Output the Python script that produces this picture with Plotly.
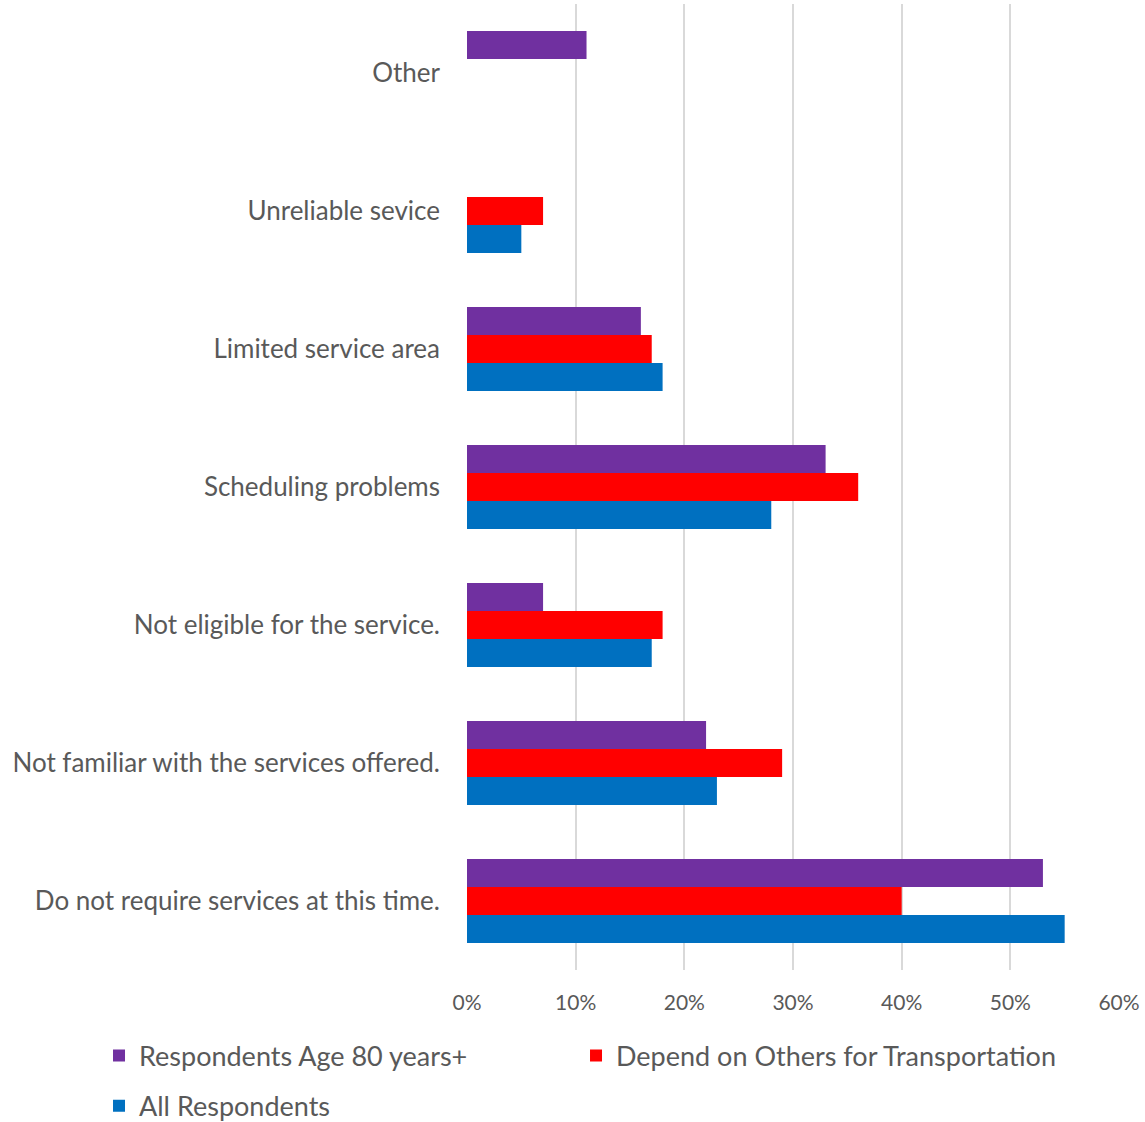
import plotly.graph_objects as go

categories = [
    "Do not require services at this time.",
    "Not familiar with the services offered.",
    "Not eligible for the service.",
    "Scheduling problems",
    "Limited service area",
    "Unreliable sevice",
    "Other",
]
all_respondents = [55, 23, 17, 28, 18, 5, 0]
depend_on_others = [40, 29, 18, 36, 17, 7, 0]
age_80_plus = [53, 22, 7, 33, 16, 0, 11]
x_tickvals = [0, 10, 20, 30, 40, 50, 60]
x_ticktext = ["0%", "10%", "20%", "30%", "40%", "50%", "60%"]

FONT = "Lato"
GREY = "#595959"

fig = go.Figure()
fig.add_trace(go.Bar(y=categories, x=all_respondents, orientation="h",
                     name="All Respondents", marker_color="#0070C0",
                     marker_line_width=0, legend="legend2", showlegend=True))
fig.add_trace(go.Bar(y=categories, x=depend_on_others, orientation="h",
                     name="Depend on Others for Transportation", marker_color="#FF0000",
                     marker_line_width=0, legend="legend3", showlegend=True))
fig.add_trace(go.Bar(y=categories, x=age_80_plus, orientation="h",
                     name="Respondents Age 80 years+", marker_color="#7030A0",
                     marker_line_width=0, legend="legend", showlegend=True))

leg_common = dict(orientation="h", xanchor="left", yanchor="middle", visible=True,
                  font=dict(size=27, color=GREY), bgcolor="rgba(0,0,0,0)")

fig.update_layout(
    width=1145, height=1122,
    showlegend=True,
    margin=dict(l=467, r=26, t=4, b=152, autoexpand=False),
    plot_bgcolor="white", paper_bgcolor="white",
    barmode="group", bargap=0.39, bargroupgap=0,
    font=dict(family=FONT, color=GREY, size=26),
    xaxis=dict(range=[0, 60], tickvals=x_tickvals, ticktext=x_ticktext,
               showgrid=True, gridcolor="#D9D9D9", gridwidth=2,
               zeroline=False, showline=False,
               tickfont=dict(size=21, color=GREY), ticklabelstandoff=18),
    yaxis=dict(showgrid=False, zeroline=False, showline=False,
               tickfont=dict(size=26, color=GREY), ticklabelstandoff=26),
    legend=dict(x=-0.5644, y=-0.089, **leg_common),
    legend3=dict(x=0.1672, y=-0.089, **leg_common),
    legend2=dict(x=-0.5644, y=-0.141, **leg_common),
)

fig.write_html("out.html", config={"displayModeBar": False},
               post_script="document.body.style.margin='0';document.body.style.overflow='hidden';")
